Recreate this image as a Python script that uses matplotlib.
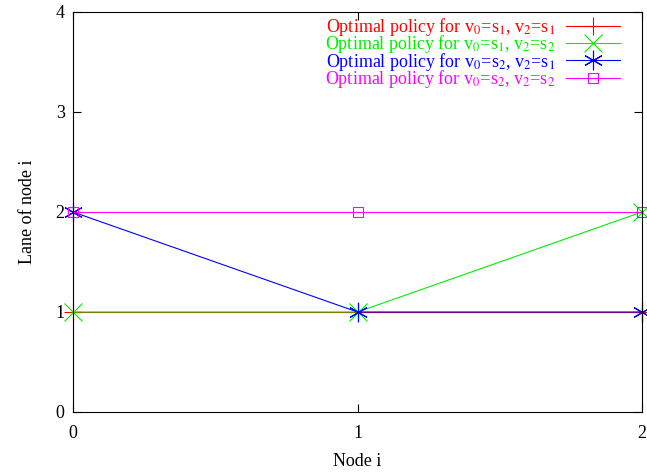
import matplotlib
matplotlib.use("Agg")
import matplotlib.pyplot as plt

plt.rcParams['font.family'] = ['Liberation Serif', 'DejaVu Serif']
plt.rcParams['mathtext.fontset'] = 'stix'

nodes = [0, 1, 2]
lanes_s1_s1 = [1, 1, 1]
lanes_s1_s2 = [1, 1, 2]
lanes_s2_s1 = [2, 1, 1]
lanes_s2_s2 = [2, 2, 2]

labels = [
    'Optimal policy for v$_0$=s$_1$, v$_2$=s$_1$',
    'Optimal policy for v$_0$=s$_1$, v$_2$=s$_2$',
    'Optimal policy for v$_0$=s$_2$, v$_2$=s$_1$',
    'Optimal policy for v$_0$=s$_2$, v$_2$=s$_2$',
]
colors = ['#ff0000', '#00ee00', '#0000ff', '#ff00ff']

fig = plt.figure(figsize=(6.47, 4.76), dpi=100)
ax = fig.add_axes([73/647, 64/476, 569/647, 400/476])

series = [lanes_s1_s1, lanes_s1_s2, lanes_s2_s1, lanes_s2_s2]
markers = ['+', 'x', (6, 2, 0), 's']
sizes = [13, 13, 14, 7]
for ys, lab, c, m, ms in zip(series, labels, colors, markers, sizes):
    ax.plot(nodes, ys, color=c, linewidth=0.8, marker=m, markersize=ms,
            markerfacecolor='none', markeredgecolor=c, markeredgewidth=0.8,
            label=lab, clip_on=False)

ax.set_xlim(0, 2)
ax.set_ylim(0, 4)
ax.set_xticks([0, 1, 2])
ax.set_yticks([0, 1, 2, 3, 4])
ax.tick_params(direction='in', length=6, width=0.8, labelsize=13,
               top=True, right=True, pad=9)
ax.tick_params(axis='y', pad=6)
for s in ax.spines.values():
    s.set_linewidth(0.8)

ax.set_xlabel('Node i', fontsize=13, labelpad=8)
ax.set_ylabel('Lane of node i', fontsize=13, labelpad=14)

leg = ax.legend(loc='upper right', bbox_to_anchor=((620 - 73) / 569, (412 - 16) / 400),
                fontsize=13, frameon=False, markerfirst=False,
                handlelength=3.0, labelspacing=-0.26, borderaxespad=0, borderpad=0,
                handletextpad=0.6)
for t, c in zip(leg.get_texts(), colors):
    t.set_color(c)

fig.savefig('out.png', dpi=100)
